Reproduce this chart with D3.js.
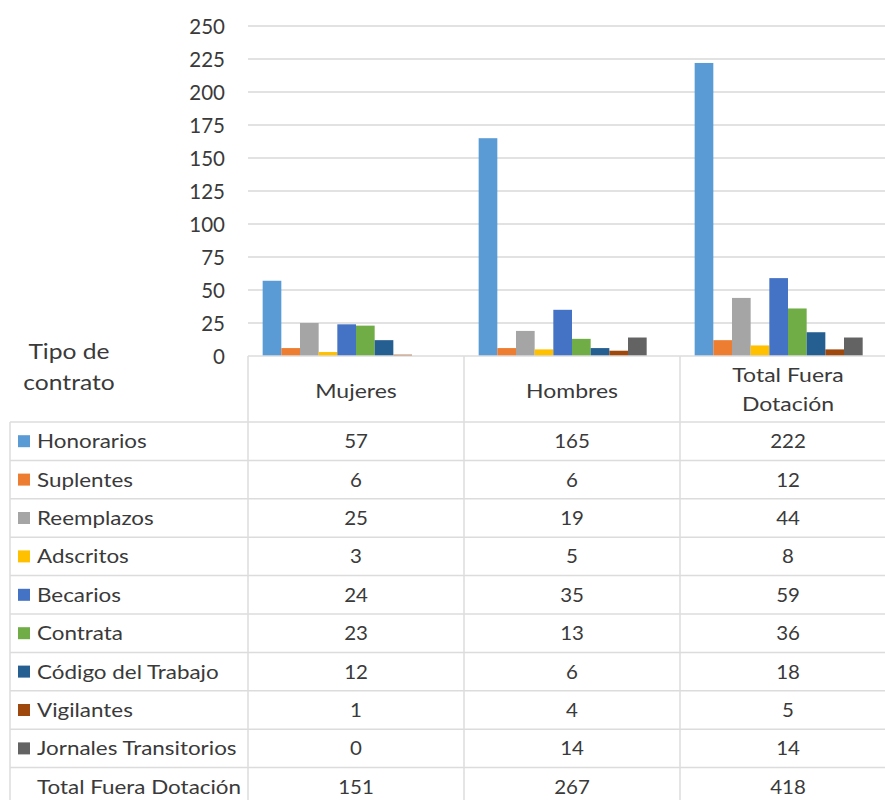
<!DOCTYPE html>
<html><head><meta charset="utf-8">
<script src="https://cdn.jsdelivr.net/npm/d3@7"></script>
<style>body{margin:0;background:#fff}svg{display:block}text{font-family:Lato,"Open Sans",sans-serif;fill:#3a3a3a}</style>
</head><body>
<svg id="c" width="885" height="800"></svg>
<script>
const categories = ["Mujeres", "Hombres", "Total Fuera Dotación"];
const seriesNames = ["Honorarios","Suplentes","Reemplazos","Adscritos","Becarios","Contrata","Código del Trabajo","Vigilantes","Jornales Transitorios"];
const seriesColors = ["#5B9BD5","#ED7D31","#A5A5A5","#FFC000","#4472C4","#70AD47","#255E91","#9E480E","#636363"];
const mujeres = [57,6,25,3,24,23,12,1,0];
const hombres = [165,6,19,5,35,13,6,4,14];
const totalFuera = [222,12,44,8,59,36,18,5,14];
const totals = [151,267,418];
const totalLabel = "Total Fuera Dotación";
const yTicks = [0,25,50,75,100,125,150,175,200,225,250];
const rowHeader = ["Tipo de","contrato"];

const values = [mujeres, hombres, totalFuera];
const svg = d3.select("#c");
const W = 885;
const plotLeft = 248, colW = 216, zeroY = 356, topY = 26;
const tableLeft = 10, headerBottom = 422, rowH = 38.4;
const SX = 1.15;

function label(sel, x, y, txt, size, anchor, sx) {
  return sel.append("text")
    .attr("transform", `translate(${x},${y}) scale(${sx},1)`)
    .attr("text-anchor", anchor).attr("font-size", size).text(txt);
}

const x0 = d3.scaleBand().domain(categories).range([plotLeft, plotLeft + colW*categories.length]);
// 10 slots: 9 series plus the (unplotted) total row
const x1 = d3.scaleBand().domain([...seriesNames, totalLabel]).range([0, x0.bandwidth()]).paddingInner(0).paddingOuter(0.785);
const y = d3.scaleLinear().domain([0,250]).range([zeroY, topY]);

// gridlines
svg.append("g").selectAll("line").data(yTicks.filter(d=>d>0)).join("line")
  .attr("x1", plotLeft).attr("x2", W).attr("y1", d=>y(d)).attr("y2", d=>y(d))
  .attr("stroke","#d9d9d9").attr("stroke-width",1.5);

// y axis
const yAxis = d3.axisLeft(y).tickValues(yTicks).tickSize(0).tickPadding(0);
const ga = svg.append("g").attr("transform",`translate(225,0)`).call(yAxis);
ga.select(".domain").remove();
ga.selectAll("text").attr("font-size",20.5).attr("fill","#3a3a3a").attr("dy","0.35em").style("font-family","Lato");

// bars
const groups = svg.append("g").selectAll("g").data(categories).join("g")
  .attr("transform", d=>`translate(${x0(d)},0)`);
groups.selectAll("rect").data((c,i)=>seriesNames.map((s,j)=>({s, v: values[i][j], color: seriesColors[j]})))
  .join("rect")
  .attr("x", d=>x1(d.s)).attr("width", x1.bandwidth())
  .attr("y", d=>y(d.v)).attr("height", d=>zeroY - y(d.v))
  .attr("fill", d=>d.color);

// table
const nRows = seriesNames.length + 1;
const tb = svg.append("g");
const gridC = "#dcdcdc";
tb.append("line").attr("x1",plotLeft).attr("x2",W).attr("y1",zeroY).attr("y2",zeroY).attr("stroke",gridC).attr("stroke-width",1.5);
d3.range(nRows+1).forEach(i=>{
  const yy = headerBottom + i*rowH;
  tb.append("line").attr("x1",tableLeft).attr("x2",W).attr("y1",yy).attr("y2",yy).attr("stroke",gridC).attr("stroke-width",1.5);
});
tb.append("line").attr("x1",tableLeft).attr("x2",tableLeft).attr("y1",headerBottom).attr("y2",800).attr("stroke",gridC).attr("stroke-width",1.5);
categories.forEach(c=>{
  tb.append("line").attr("x1",x0(c)).attr("x2",x0(c)).attr("y1",zeroY).attr("y2",800).attr("stroke",gridC).attr("stroke-width",1.5);
});

// header text
rowHeader.forEach((t,i)=>label(tb, 69, 359 + i*31, t, 22, "middle", 1.12));

categories.forEach(c=>{
  const cx = x0(c) + x0.bandwidth()/2;
  const words = c === "Total Fuera Dotación" ? ["Total Fuera","Dotación"] : [c];
  if (words.length === 1) label(tb, cx, 398, c, 20, "middle", SX);
  else words.forEach((w,i)=>label(tb, cx, 382 + i*29, w, 20, "middle", SX));
});

// rows
seriesNames.forEach((s,i)=>{
  const top = headerBottom + i*rowH;
  tb.append("rect").attr("x",18).attr("y",top+rowH/2-6).attr("width",12).attr("height",12).attr("fill",seriesColors[i]);
  label(tb, 37, top+rowH/2+7, s, 19.5, "start", SX);
  categories.forEach((c,k)=>{
    label(tb, x0(c)+x0.bandwidth()/2, top+rowH/2+7, values[k][i], 19.5, "middle", 1.05);
  });
});
const lastTop = headerBottom + seriesNames.length*rowH;
label(tb, 37, lastTop+rowH/2+7, totalLabel, 19.5, "start", SX);
categories.forEach((c,k)=>{
  label(tb, x0(c)+x0.bandwidth()/2, lastTop+rowH/2+7, totals[k], 19.5, "middle", 1.05);
});
</script>
</body></html>
